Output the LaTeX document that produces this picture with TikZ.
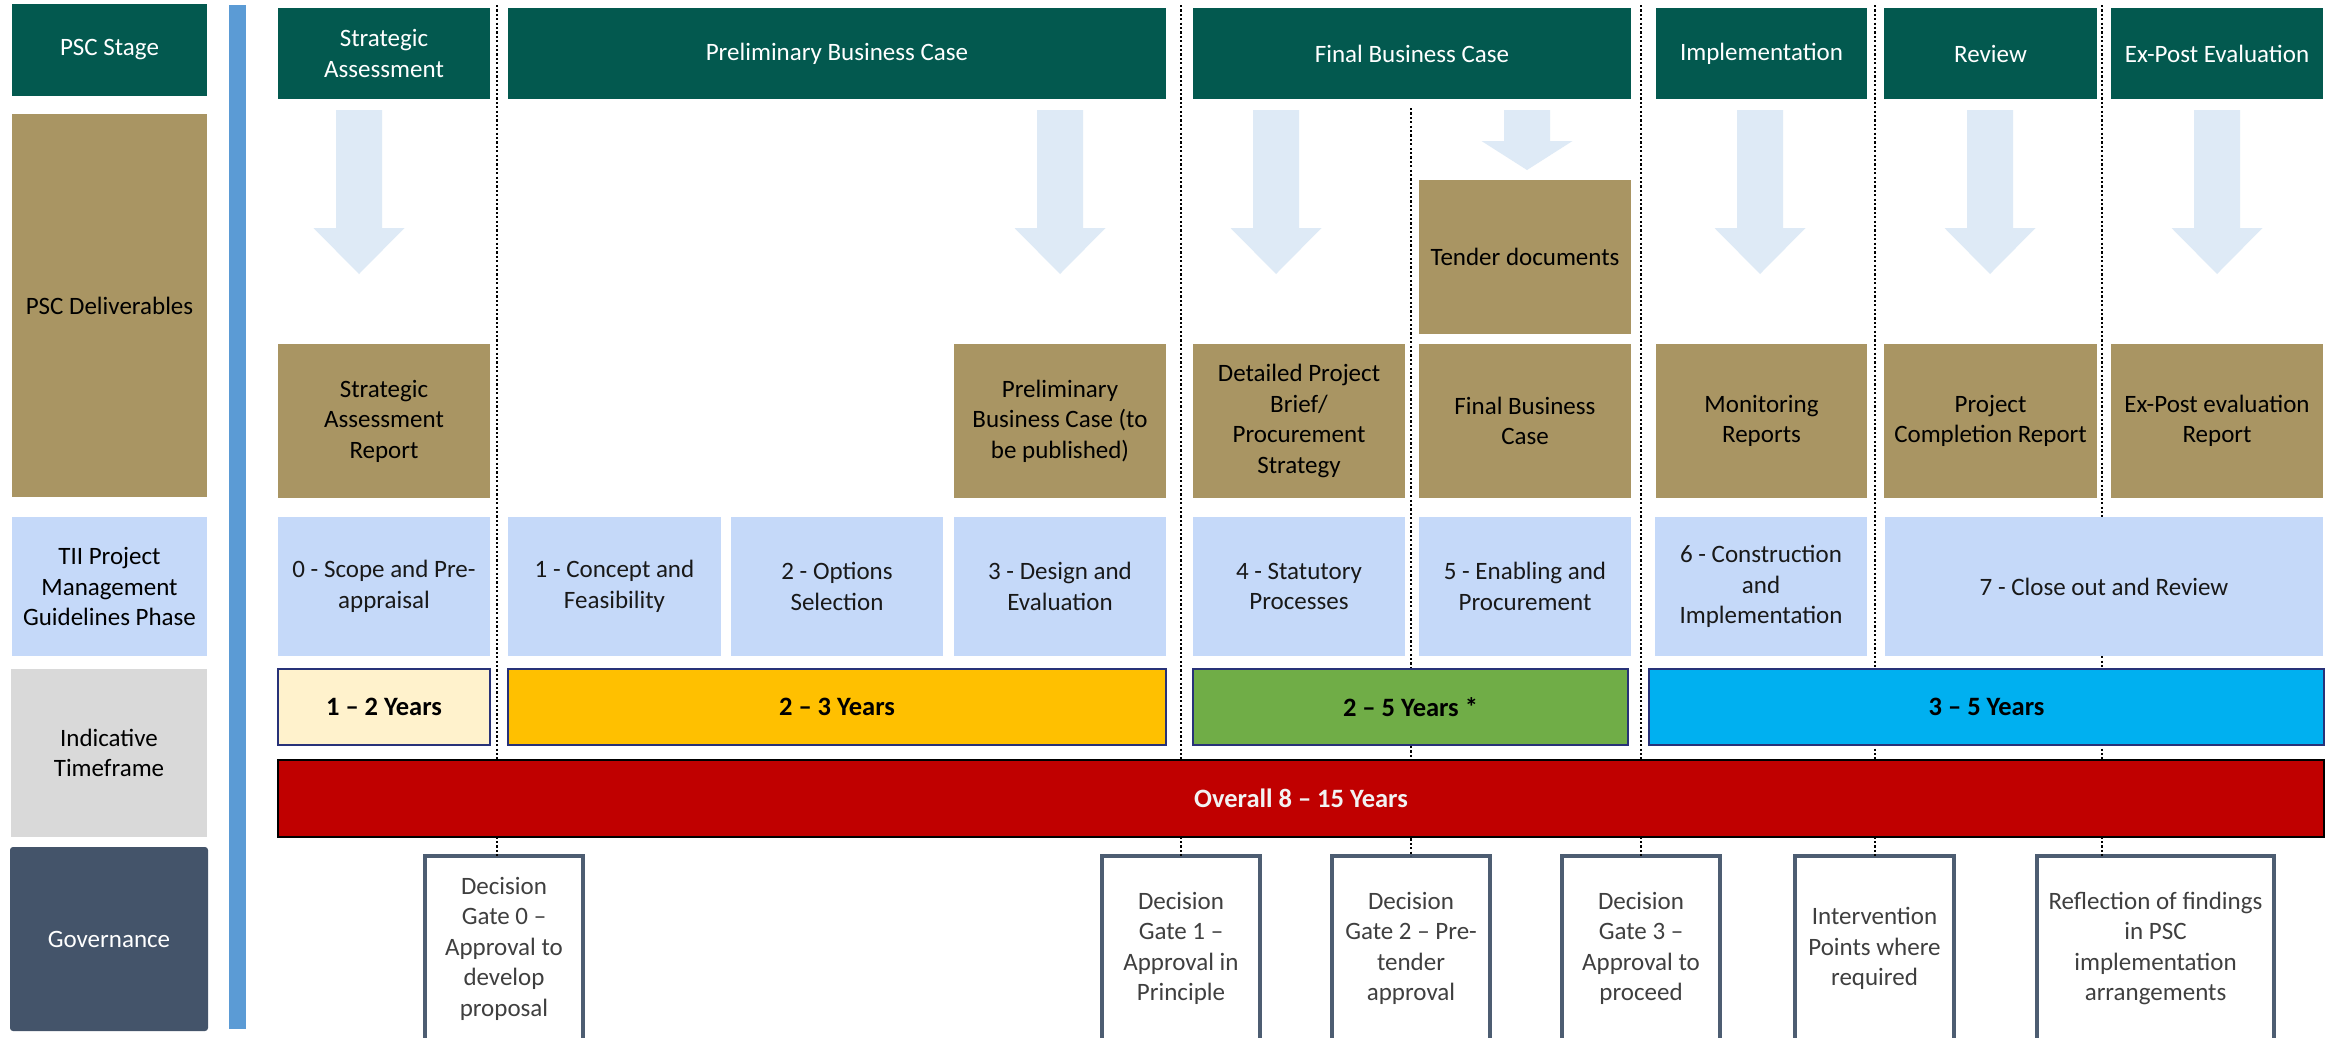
\documentclass[tikz,border=0pt]{standalone}
\usepackage{fontspec}
\setmainfont{Carlito}
\definecolor{hdrgreen}{HTML}{03594F}
\definecolor{deltan}{HTML}{A99563}
\definecolor{tiiblue}{HTML}{C5D9F9}
\definecolor{tfgrey}{HTML}{D9D9D9}
\definecolor{govslate}{HTML}{44546A}
\definecolor{barblue}{HTML}{5B9BD5}
\definecolor{arrowblue}{HTML}{DEEAF6}
\definecolor{tfnavy}{HTML}{283278}
\definecolor{tfcream}{HTML}{FFF2CC}
\definecolor{tforange}{HTML}{FFC000}
\definecolor{tfgreen}{HTML}{70AD47}
\definecolor{tfcyan}{HTML}{00B0F0}
\definecolor{tfred}{HTML}{C00000}
\definecolor{govedge}{HTML}{4D5D72}
\definecolor{govtext}{HTML}{3F3F3F}
\begin{document}
\begin{tikzpicture}[x=1pt,y=-1pt,
  box/.style={inner sep=0pt, outer sep=0pt, align=center, font=\fontsize{25}{30.5}\selectfont},
  hdr/.style={box, fill=hdrgreen, text=white, minimum height=91pt},
  del/.style={box, fill=deltan, text=black, minimum height=154pt},
  tii/.style={box, fill=tiiblue, text=black!90, minimum height=139pt},
  tf/.style={box, draw=tfnavy, line width=2.8pt, minimum height=76pt, font=\bfseries\fontsize{26.5}{31}\selectfont},
  gov/.style={box, draw=govedge, line width=3.5pt, fill=white, text=govtext, minimum height=185pt},
  downarrow/.style={fill=arrowblue, draw=none},
  dotline/.style={draw=black, line width=2.2pt, dash pattern=on 2.2pt off 2.2pt}
]
\clip (0,0) rectangle (2331,1037);
\fill[white] (0,0) rectangle (2331,1037);

% vertical dotted separators (drawn first, boxes cover them)
\coordinate (s0) at (497,5);
\coordinate (s1) at (1181,5);
\coordinate (s2) at (1411,108);
\coordinate (s3) at (1641,5);
\coordinate (s4) at (1875,5);
\coordinate (s5) at (2102,5);

% left column labels
\node[box, fill=hdrgreen, text=white, minimum width=195pt, minimum height=92pt] (lstage) at (109.5,50) {PSC Stage};
\node[box, fill=deltan, minimum width=195pt, minimum height=383pt] (ldel) at (109.5,305.5) {PSC Deliverables};
\node[box, fill=tiiblue, minimum width=195pt, minimum height=139pt] (ltii) at (109.5,586.5) {TII Project\\Management\\Guidelines Phase};
\node[box, fill=tfgrey, minimum width=196pt, minimum height=168pt] (ltf) at (109,753) {Indicative\\Timeframe};
\node[box, fill=govslate, text=white, rounded corners=3pt, minimum width=198pt, minimum height=184pt] (lgov) at (109,939) {Governance};

% blue vertical bar
\fill[barblue] (229,5) rectangle (246,1029);

% governance boxes
\node[gov, minimum width=158pt] (g0) at (504,948.5) {Decision\\Gate 0 --\\Approval to\\develop\\proposal};
\node[gov, minimum width=158pt] (g1) at (1181,948.5) {Decision\\Gate 1 --\\Approval in\\Principle};
\node[gov, minimum width=158pt] (g2) at (1411,948.5) {Decision\\Gate 2 -- Pre-\\tender\\approval};
\node[gov, minimum width=158pt] (g3) at (1641,948.5) {Decision\\Gate 3 --\\Approval to\\proceed};
\node[gov, minimum width=159pt] (g4) at (1874.5,948.5) {Intervention\\Points where\\required};
\node[gov, minimum width=237pt] (g5) at (2155.5,948.5) {Reflection of findings\\in PSC\\implementation\\arrangements};

\draw[dotline] (s0) -- (s0 |- g0.north);
\draw[dotline] (s1) -- (s1 |- g1.north);
\draw[dotline] (s2) -- (s2 |- g2.north);
\draw[dotline] (s3) -- (s3 |- g3.north);
\draw[dotline] (s4) -- (s4 |- g4.north);
\draw[dotline] (s5) -- (s5 |- g5.north);

% PSC stage headers
\node[hdr, minimum width=212pt] (hsa) at (384,53.5) {Strategic\\Assessment};
\node[hdr, minimum width=658pt] (hpbc) at (837,53.5) {Preliminary Business Case};
\node[hdr, minimum width=438pt] (hfbc) at (1412,53.5) {Final Business Case};
\node[hdr, minimum width=211pt] (himp) at (1761.5,53.5) {Implementation};
\node[hdr, minimum width=213pt] (hrev) at (1990.5,53.5) {Review};
\node[hdr, minimum width=212pt] (hex) at (2217,53.5) {Ex-Post Evaluation};

% block arrows
\foreach \cx in {359,1060,1276,1760,1990,2217}{
  \fill[downarrow] (\cx-23,110) -- (\cx-23,228) -- (\cx-45.5,228) -- (\cx,274) -- (\cx+45.5,228) -- (\cx+23,228) -- (\cx+23,110) -- cycle;
}
\fill[downarrow] (1504,110) -- (1504,141) -- (1481.5,141) -- (1527,170) -- (1572.5,141) -- (1550,141) -- (1550,110) -- cycle;

% deliverables
\node[del, minimum width=212pt] (dsa) at (384,421) {Strategic\\Assessment\\Report};
\node[del, minimum width=212pt] (dpbc) at (1060,421) {Preliminary\\Business Case (to\\be published)};
\node[del, minimum width=212pt] (ddet) at (1299,421) {Detailed Project\\Brief/\\Procurement\\Strategy};
\node[del, minimum width=212pt] (dten) at (1525,257) {Tender documents};
\node[del, minimum width=212pt] (dfbc) at (1525,421) {Final Business\\Case};
\node[del, minimum width=211pt] (dmon) at (1761.5,421) {Monitoring\\Reports};
\node[del, minimum width=213pt] (dpcr) at (1990.5,421) {Project\\Completion Report};
\node[del, minimum width=212pt] (dex) at (2217,421) {Ex-Post evaluation\\Report};

% TII phases
\node[tii, minimum width=212pt] (t0) at (384,586.5) {0 - Scope and Pre-\\appraisal};
\node[tii, minimum width=213pt] (t1) at (614.5,586.5) {1 - Concept and\\Feasibility};
\node[tii, minimum width=212pt] (t2) at (837,586.5) {2 - Options\\Selection};
\node[tii, minimum width=212pt] (t3) at (1060,586.5) {3 - Design and\\Evaluation};
\node[tii, minimum width=212pt] (t4) at (1299,586.5) {4 - Statutory\\Processes};
\node[tii, minimum width=212pt] (t5) at (1525,586.5) {5 - Enabling and\\Procurement};
\node[tii, minimum width=212pt] (t6) at (1761,586.5) {6 - Construction\\and\\Implementation};
\node[tii, minimum width=438pt] (t7) at (2104,586.5) {7 - Close out and Review};

% timeframes
\node[tf, fill=tfcream, minimum width=212pt] (f1) at (384,707) {1 -- 2 Years};
\node[tf, fill=tforange, minimum width=658pt] (f2) at (837,707) {2 -- 3 Years};
\node[tf, fill=tfgreen, minimum width=435pt] (f3) at (1410.5,707) {2 -- 5 Years *};
\node[tf, fill=tfcyan, minimum width=675pt] (f4) at (1986.5,707) {3 -- 5 Years};
\node[tf, draw=black, fill=tfred, text=white!95!black, minimum width=2046pt, minimum height=77pt] (fall) at (1301,798.5) {Overall 8 -- 15 Years};
\end{tikzpicture}
\end{document}
